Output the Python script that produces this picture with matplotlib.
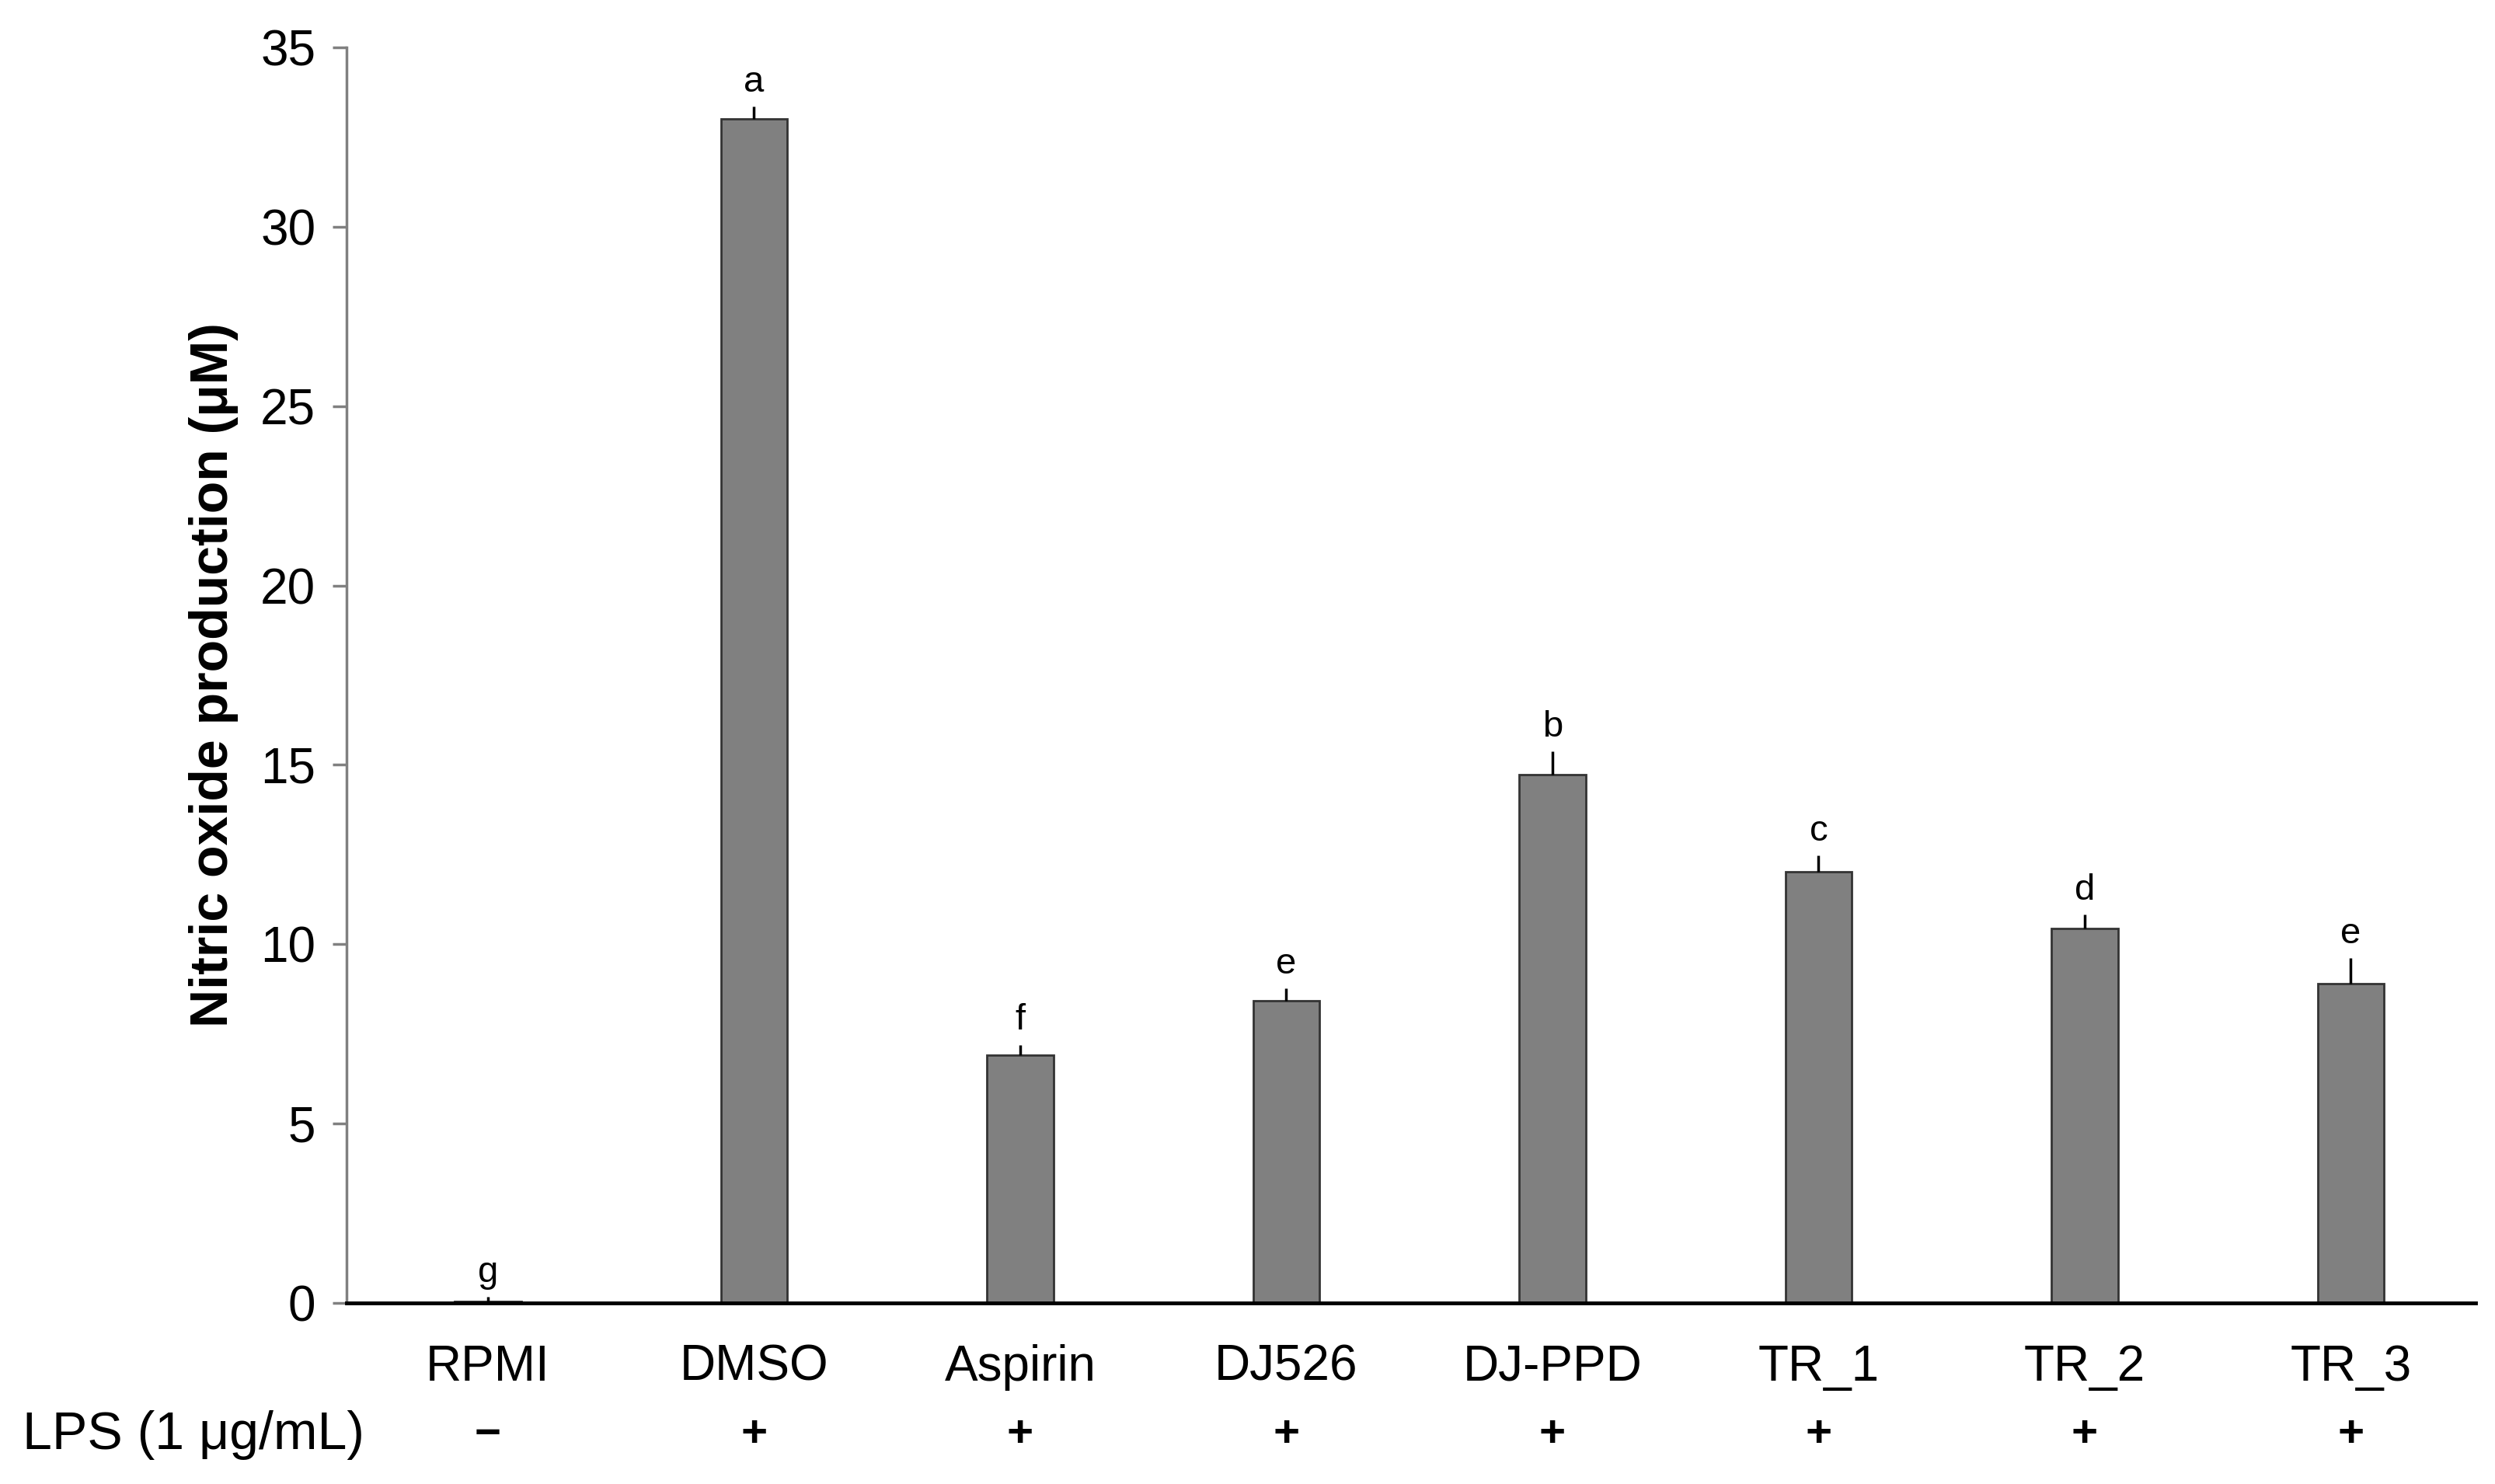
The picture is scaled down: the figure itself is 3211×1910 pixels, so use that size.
import matplotlib
matplotlib.use("Agg")
import matplotlib.pyplot as plt
import matplotlib.transforms as mtransforms

plt.rcParams["font.family"] = ["Liberation Sans", "DejaVu Sans"]

# data
groups = ["RPMI", "DMSO", "Aspirin", "DJ526", "DJ-PPD", "TR_1", "TR_2", "TR_3"]
no_values = [0.05, 33.0, 6.9, 8.42, 14.72, 12.02, 10.45, 8.9]
no_errors = [0.12, 0.35, 0.3, 0.35, 0.65, 0.45, 0.38, 0.72]
letters = ["g", "a", "f", "e", "b", "c", "d", "e"]
lps = ["\u2212", "+", "+", "+", "+", "+", "+", "+"]

fig = plt.figure(figsize=(32.12, 19.10), dpi=100)
ax = fig.add_axes([0.139, 0.122, 0.853, 0.846])

x = range(len(groups))
lower = [0] * len(no_values)
ax.bar(x, no_values, width=0.25, color="#808080", edgecolor="#333333", linewidth=2,
       yerr=[lower, no_errors], error_kw=dict(ecolor="black", elinewidth=2.5, capsize=0))

# significance letters above the error bars
for i in x:
    ax.text(i, no_values[i] + no_errors[i] + 0.2, letters[i], ha="center", va="bottom", fontsize=34)

ax.set_xlim(-0.53, 7.47)
ax.set_ylim(0, 35)
ax.set_yticks([0, 5, 10, 15, 20, 25, 30, 35])
ax.set_xticks(list(x))
ax.set_xticklabels(groups, fontsize=46)
ax.tick_params(axis="x", length=0, pad=38)
ax.tick_params(axis="y", labelsize=46, length=13, width=2.5, color="#808080", pad=16, direction="out")
ax.yaxis.get_major_ticks()[0].tick1line.set_color("black") #zero tick joins the x axis line

ax.spines["top"].set_visible(False)
ax.spines["right"].set_visible(False)
ax.spines["left"].set_color("#808080")
ax.spines["left"].set_linewidth(2.5)
ax.spines["bottom"].set_color("black")
ax.spines["bottom"].set_linewidth(3.5)

ax.set_ylabel("Nitric oxide production (\u03bcM)", fontsize=49, fontweight="bold")
ax.yaxis.set_label_coords(-0.051, 0.5)

# LPS row under the tick labels
trans = mtransforms.blended_transform_factory(ax.transData, ax.transAxes)
for i in x:
    ax.text(i, -0.105, lps[i], transform=trans, ha="center", va="center", fontsize=42, fontweight="bold")
fig.text(0.009, 0.033, "LPS (1 \u03bcg/mL)", ha="left", va="center", fontsize=49)

fig.savefig("out.png", dpi=100, facecolor="white")
